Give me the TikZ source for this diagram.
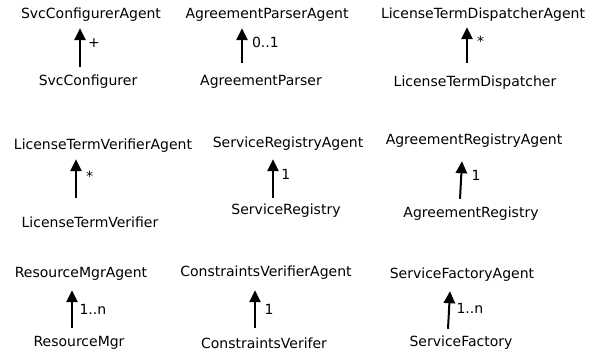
\documentclass[tikz,border=0pt]{standalone}
\usepackage{fontspec}
\setmainfont{DejaVu Sans}
\usetikzlibrary{arrows.meta,calc}
\begin{document}
\begin{tikzpicture}[x=0.75pt,y=-0.75pt,
  cls/.style={inner sep=0pt, text height=7.5pt, text depth=2.5pt, font=\fontsize{10.5}{12}\selectfont},
  mult/.style={cls, anchor=west},
  gen/.style={-{Triangle[length=9pt,width=8.5pt]}, line width=1.5pt}]
\useasboundingbox (0,0) rectangle (598,358);
% row 1
\node[cls] (a1) at (91,15) {SvcConfigurerAgent};
\node[cls] (b1) at (88,82) {SvcConfigurer};
\node[cls] (a2) at (267,15) {AgreementParserAgent};
\node[cls] (b2) at (261,82) {AgreementParser};
\node[cls] (a3) at (483,15) {LicenseTermDispatcherAgent};
\node[cls] (b3) at (475,83) {LicenseTermDispatcher};
% row 2
\node[cls] (a4) at (103,146) {LicenseTermVerifierAgent};
\node[cls] (b4) at (90,224) {LicenseTermVerifier};
\node[cls] (a5) at (288,144) {ServiceRegistryAgent};
\node[cls] (b5) at (286,211) {ServiceRegistry};
\node[cls] (a6) at (474,141) {AgreementRegistryAgent};
\node[cls] (b6) at (471,214) {AgreementRegistry};
% row 3
\node[cls] (a7) at (81,274) {ResourceMgrAgent};
\node[cls] (b7) at (79,343) {ResourceMgr};
\node[cls] (a8) at (266,273) {ConstraintsVerifierAgent};
\node[cls] (b8) at (264,345) {ConstraintsVerifer};
\node[cls] (a9) at (462,275) {ServiceFactoryAgent};
\node[cls] (b9) at (461,343) {ServiceFactory};
% connectors
\draw[gen] ($(b1.north)+(-8,-8.3)$) -- ($(a1.south)+(-11,6.3)$) node[mult, pos=0.59, xshift=5.25pt] {+};
\draw[gen] ($(b2.north)+(-19,-12.3)$) -- ($(a2.south)+(-25,6.3)$) node[mult, pos=0.54, xshift=6.75pt] {0..1};
\draw[gen] ($(b3.north)+(-8,-13.3)$) -- ($(a3.south)+(-16,5.3)$) node[mult, pos=0.56, xshift=6.75pt] {*};
\draw[gen] ($(b4.north)+(-14,-19.3)$) -- ($(a4.south)+(-27,6.3)$) node[mult, pos=0.51, xshift=6.75pt] {*};
\draw[gen] ($(b5.north)+(-13,-6.3)$) -- ($(a5.south)+(-15,8.3)$) node[mult, pos=0.56, xshift=5.6pt] {1};
\draw[gen] ($(b6.north)+(-11,-8.3)$) -- ($(a6.south)+(-12,13.3)$) node[mult, pos=0.58, xshift=7.1pt] {1};
\draw[gen] ($(b7.north)+(-7,-8.3)$) -- ($(a7.south)+(-9,9.3)$) node[mult, pos=0.45, xshift=4.9pt] {1..n};
\draw[gen] ($(b8.north)+(-9,-10.3)$) -- ($(a8.south)+(-11,10.3)$) node[mult, pos=0.45, xshift=6.4pt] {1};
\draw[gen] ($(b9.north)+(-13,-7.3)$) -- ($(a9.south)+(-12,9.3)$) node[mult, pos=0.5, xshift=4.9pt] {1..n};
\end{tikzpicture}
\end{document}
